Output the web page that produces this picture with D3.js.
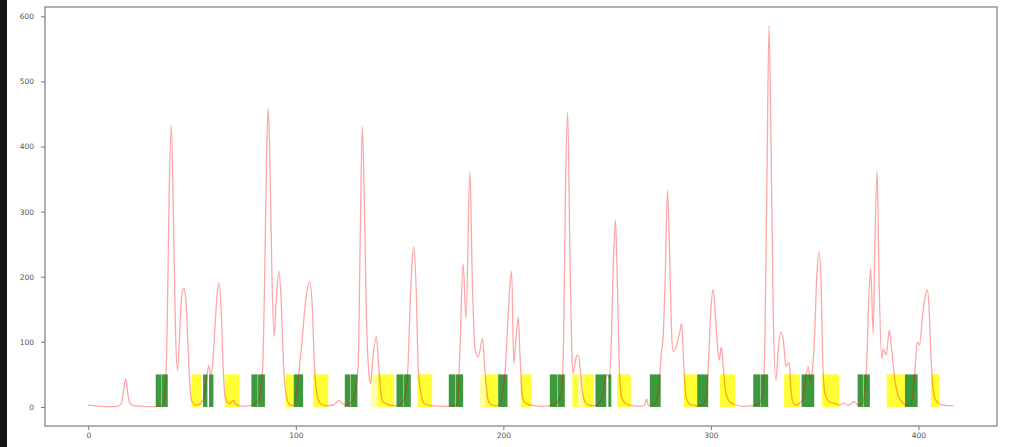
<!DOCTYPE html>
<html>
<head>
<meta charset="utf-8">
<script src="https://cdn.jsdelivr.net/npm/d3@7"></script>
<style>
  body { margin: 0; background: #fff; }
  svg { display: block; }
  .tick text { font-family: "DejaVu Sans", sans-serif; font-size: 7.5px; fill: #555; }
  .tick line { stroke: #777; }
</style>
</head>
<body>
<script>
// tick labels
var xTicks = [0, 100, 200, 300, 400];
var yTicks = [0, 100, 200, 300, 400, 500, 600];

// signal, [index, value]
var signal = [
  [0, 3], [3, 2], [6, 1], [10, 0.5], [14, 1], [16, 6], [17, 25], [18, 43], [19, 22], [20, 6],
  [22, 2], [26, 1], [30, 0.5], [34, 1], [36, 4], [37, 20], [38, 120], [39, 330], [40, 432],
  [41, 300], [42, 120], [43, 56], [44, 110], [45, 170], [46, 182], [47, 165], [48, 100],
  [49, 30], [50, 8], [52, 3], [54, 5], [56, 20], [57, 40], [58, 64], [59, 50], [60, 70],
  [61, 120], [62, 170], [63, 190], [64, 150], [65, 60], [66, 15], [68, 5], [70, 10], [71, 4],
  [73, 2], [75, 1], [78, 2], [80, 5], [82, 10], [84, 60], [85, 200], [86, 400], [86.7, 459],
  [87.5, 380], [88.5, 200], [89.5, 108], [90.5, 160], [91.8, 208], [93, 160], [94, 70],
  [95.5, 15], [97, 4], [99, 2], [101, 40], [102, 70], [103, 100], [104, 140], [105.5, 180],
  [106.7, 192], [108, 150], [109, 60], [110.5, 15], [112, 5], [115, 2], [118, 3], [120, 8],
  [121, 10], [122, 6], [124, 3], [126, 5], [128, 15], [130, 60], [131, 250], [132, 430],
  [133, 320], [134, 140], [135, 60], [136, 36], [137, 70], [138.8, 108], [140, 60], [141, 20],
  [142, 8], [145, 3], [148, 2], [150, 3], [152, 10], [154, 60], [155, 150], [156, 220],
  [156.9, 246], [158, 180], [159, 60], [160.6, 15], [162, 5], [165, 2], [170, 1], [175, 1],
  [178, 5], [179, 80], [180.6, 220], [182, 136], [183.9, 362], [185, 200], [186.3, 92],
  [187.9, 77], [190, 105], [191, 60], [192.7, 10], [194, 4], [196, 2], [198, 3], [200, 30],
  [201, 60], [202, 120], [203, 180], [204, 208], [205, 67], [206, 100], [207.2, 138], [208, 80],
  [209, 20], [210, 8], [212, 4], [215, 2], [218, 1], [222, 2], [225, 5], [228, 20], [229, 100],
  [230, 350], [231, 452], [232, 250], [233, 80], [233.6, 52], [235, 75], [236, 80], [237, 60],
  [238, 25], [239.3, 8], [241, 3], [244, 2], [247, 10], [249, 40], [250, 50], [251, 45],
  [252, 100], [253, 220], [254, 287], [255, 180], [256, 50], [257, 15], [259, 5], [262, 2],
  [266, 1], [268, 3], [269, 12], [270, 2], [273, 5], [275, 30], [276, 80], [277, 108], [278, 200],
  [279.1, 333], [280, 250], [281, 120], [281.8, 85], [283, 90], [285, 115], [285.9, 128],
  [287, 60], [288, 15], [290, 4], [293, 2], [296, 3], [298, 20], [299, 80], [300, 150],
  [301, 180], [302, 150], [303, 100], [304, 72], [305, 92], [306, 60], [307, 25], [309, 8],
  [312, 3], [316, 1], [320, 2], [323, 5], [325, 20], [326, 100], [327, 350], [328, 585],
  [329, 400], [330, 150], [331.3, 41], [332.5, 90], [333.7, 115], [335, 100], [336.1, 62],
  [337.7, 69], [338.5, 30], [339.4, 8], [341, 3], [344, 10], [345, 30], [346.9, 62], [348, 40],
  [349, 60], [350, 113], [351, 200], [352, 238], [353, 200], [354, 60], [355, 20], [357, 8],
  [360, 5], [362, 3], [364, 6], [366, 2], [369, 8], [371, 3], [373, 5], [375, 60], [376, 160],
  [377, 213], [378.2, 113], [379, 250], [380.1, 362], [381, 200], [382.3, 74], [383, 89],
  [384.5, 80], [386, 118], [387, 90], [388.7, 40], [390, 20], [392, 8], [394, 3], [396, 2],
  [398, 40], [399.4, 100], [400.5, 95], [402, 140], [403, 165], [404.2, 180], [405, 160],
  [406, 80], [407, 30], [408, 12], [410, 5], [412, 3], [414, 2], [417, 2]
];

// shaded spans [start, end]
var greenSpans = [
  [32.5, 35.3], [35.5, 38.3], [55.3, 57.4], [58.2, 60.3], [78.6, 81.6], [81.8, 85.1],
  [99, 103.5], [123.6, 126.3], [126.5, 129.7], [148.5, 151.9], [152.1, 155.4],
  [173.7, 176.9], [177.1, 180.6], [197.5, 202], [222.4, 225.9], [226.1, 229.6],
  [244.4, 249.6], [250.6, 252], [270.6, 275.8], [293.4, 298.7], [320.4, 323.9],
  [324.1, 327.6], [343.7, 349.8], [370.7, 373.5], [373.7, 376.6], [393.5, 399.6]
];
var yellowSpans = [
  [49.7, 54.6], [65.8, 72.7], [95.2, 99], [108.3, 115.6], [139.6, 147.4], [158.6, 165.7],
  [191.2, 197.5], [208.4, 213.6], [233.3, 236], [238.4, 243.6], [254.8, 261.4], [287, 293.4],
  [304.3, 311.6], [335.3, 342.9], [353.6, 361.7], [384.7, 393.5], [406, 409.9]
];
var paleSpans = [[136.1, 139.6], [188.7, 191.2], [236, 238.4]];
var spanHeight = 50;

var margin = { top: 7, right: 15, bottom: 21, left: 45 };
var width = 1012 - margin.left - margin.right;
var height = 447 - margin.top - margin.bottom;

var root = d3.select("body").append("svg")
  .attr("width", 1012)
  .attr("height", 447);

// dark strip on the left edge of the screenshot
root.append("rect").attr("x", 0).attr("y", 0).attr("width", 7).attr("height", 447).attr("fill", "#151515");

var svg = root.append("g")
  .attr("transform", "translate(" + margin.left + "," + margin.top + ")");

var x = d3.scaleLinear().domain([-20.85, 437.85]).range([0, width]);
var y = d3.scaleLinear().domain([-29.25, 614.25]).range([height, 0]);

// background bands go under the line
function drawSpans(spans, color) {
  svg.append("g")
    .selectAll("rect")
    .data(spans)
    .enter()
    .append("rect")
    .attr("x", function (d) { return x(d[0]); })
    .attr("width", function (d) { return x(d[1]) - x(d[0]); })
    .attr("y", y(spanHeight))
    .attr("height", y(0) - y(spanHeight))
    .attr("fill", color);
}
drawSpans(paleSpans, "#ffffa8");
drawSpans(yellowSpans, "#ffff33");
drawSpans(greenSpans, "#3c993c");

var line = d3.line()
  .x(function (d) { return x(d[0]); })
  .y(function (d) { return y(d[1]); })
  .curve(d3.curveMonotoneX);

svg.append("path")
  .datum(signal)
  .attr("fill", "none")
  .attr("stroke", "red")
  .attr("stroke-opacity", 0.35)
  .attr("stroke-width", 1.3)
  .attr("d", line);

// axes
svg.append("g")
  .attr("transform", "translate(0," + height + ")")
  .call(d3.axisBottom(x).tickValues(xTicks).tickSize(4).tickPadding(3))
  .call(function (g) { g.select(".domain").remove(); });

svg.append("g")
  .call(d3.axisLeft(y).tickValues(yTicks).tickSize(4).tickPadding(7))
  .call(function (g) { g.select(".domain").remove(); });

// frame
svg.append("rect")
  .attr("width", width)
  .attr("height", height)
  .attr("fill", "none")
  .attr("stroke", "#888")
  .attr("stroke-width", 1.3);
</script>
</body>
</html>
